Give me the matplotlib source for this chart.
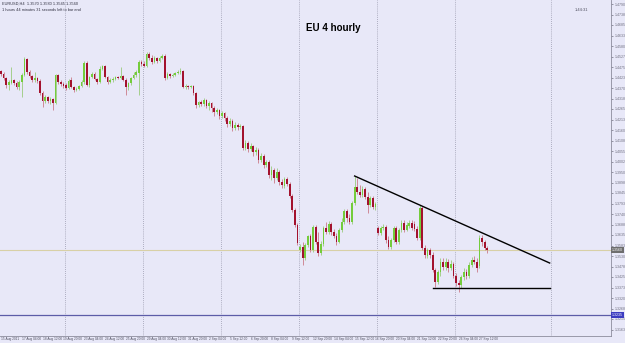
import numpy as np
import matplotlib
matplotlib.use("Agg")
import matplotlib.pyplot as plt
from matplotlib.transforms import blended_transform_factory

plt.rcParams['font.family'] = ['Liberation Sans', 'DejaVu Sans']

# EURUSD H4 candles, 15 Aug 2011 20:00 .. 28 Sep 2011 00:00
opens = [
    1.4455, 1.4440, 1.4420, 1.4385, 1.4395, 1.4410, 1.4395, 1.4375, 1.4400, 1.4435,
    1.4515, 1.4450, 1.4430, 1.4410, 1.4420, 1.4405, 1.4345, 1.4305, 1.4325, 1.4305,
    1.4315, 1.4295, 1.4435, 1.4400, 1.4390, 1.4385, 1.4370, 1.4410, 1.4375, 1.4360,
    1.4365, 1.4380, 1.4400, 1.4495, 1.4385, 1.4425, 1.4440, 1.4415, 1.4400, 1.4465,
    1.4480, 1.4425, 1.4400, 1.4410, 1.4415, 1.4425, 1.4420, 1.4430, 1.4410, 1.4375,
    1.4395, 1.4420, 1.4435, 1.4445, 1.4500, 1.4490, 1.4480, 1.4540, 1.4520, 1.4500,
    1.4520, 1.4505, 1.4520, 1.4530, 1.4420, 1.4440, 1.4430, 1.4435, 1.4445, 1.4450,
    1.4455, 1.4375, 1.4380, 1.4375, 1.4380, 1.4345, 1.4285, 1.4300, 1.4290, 1.4310,
    1.4280, 1.4295, 1.4270, 1.4250, 1.4260, 1.4230, 1.4245, 1.4220, 1.4190, 1.4205,
    1.4170, 1.4185, 1.4175, 1.4180, 1.4070, 1.4095, 1.4065, 1.4080, 1.4050, 1.4060,
    1.4010, 1.4030, 1.3985, 1.4000, 1.3935, 1.3960, 1.3920, 1.3950, 1.3900, 1.3880,
    1.3915, 1.3890, 1.3830, 1.3760, 1.3685, 1.3560, 1.3575, 1.3520, 1.3585, 1.3630,
    1.3560, 1.3675, 1.3600, 1.3545, 1.3590, 1.3670, 1.3650, 1.3690, 1.3650, 1.3630,
    1.3600, 1.3660, 1.3700, 1.3755, 1.3720, 1.3700, 1.3795, 1.3875, 1.3850, 1.3835,
    1.3865, 1.3825, 1.3785, 1.3820, 1.3775, 1.3670, 1.3645, 1.3670, 1.3675, 1.3610,
    1.3575, 1.3610, 1.3670, 1.3600, 1.3660, 1.3695, 1.3660, 1.3680, 1.3695, 1.3690,
    1.3665, 1.3620, 1.3770, 1.3570, 1.3530, 1.3560, 1.3535, 1.3460, 1.3400, 1.3450,
    1.3500, 1.3475, 1.3500, 1.3470, 1.3490, 1.3430, 1.3395, 1.3385, 1.3425, 1.3450,
    1.3430, 1.3485, 1.3510, 1.3500, 1.3480, 1.3620, 1.3600, 1.3570,
]
highs = [
    1.4460, 1.4450, 1.4425, 1.4410, 1.4475, 1.4415, 1.4405, 1.4410, 1.4445, 1.4525,
    1.4520, 1.4460, 1.4435, 1.4450, 1.4425, 1.4415, 1.4355, 1.4335, 1.4330, 1.4325,
    1.4320, 1.4440, 1.4440, 1.4410, 1.4400, 1.4395, 1.4415, 1.4425, 1.4380, 1.4375,
    1.4385, 1.4410, 1.4505, 1.4505, 1.4430, 1.4450, 1.4450, 1.4420, 1.4480, 1.4485,
    1.4485, 1.4430, 1.4420, 1.4425, 1.4430, 1.4430, 1.4475, 1.4435, 1.4420, 1.4400,
    1.4425, 1.4450, 1.4460, 1.4510, 1.4510, 1.4505, 1.4550, 1.4550, 1.4535, 1.4530,
    1.4525, 1.4530, 1.4540, 1.4540, 1.4450, 1.4445, 1.4445, 1.4450, 1.4460, 1.4470,
    1.4460, 1.4390, 1.4385, 1.4385, 1.4385, 1.4350, 1.4305, 1.4310, 1.4320, 1.4315,
    1.4305, 1.4300, 1.4280, 1.4270, 1.4265, 1.4255, 1.4250, 1.4230, 1.4220, 1.4215,
    1.4200, 1.4195, 1.4190, 1.4185, 1.4110, 1.4105, 1.4095, 1.4085, 1.4075, 1.4070,
    1.4045, 1.4040, 1.4010, 1.4010, 1.3980, 1.3970, 1.3970, 1.3960, 1.3915, 1.3925,
    1.3925, 1.3900, 1.3840, 1.3770, 1.3695, 1.3590, 1.3600, 1.3595, 1.3635, 1.3640,
    1.3685, 1.3685, 1.3650, 1.3605, 1.3680, 1.3700, 1.3705, 1.3700, 1.3665, 1.3645,
    1.3670, 1.3720, 1.3765, 1.3765, 1.3740, 1.3805, 1.3930, 1.3920, 1.3885, 1.3880,
    1.3875, 1.3850, 1.3830, 1.3830, 1.3800, 1.3680, 1.3680, 1.3690, 1.3685, 1.3630,
    1.3620, 1.3680, 1.3680, 1.3670, 1.3710, 1.3710, 1.3700, 1.3710, 1.3710, 1.3705,
    1.3680, 1.3785, 1.3780, 1.3585, 1.3570, 1.3570, 1.3550, 1.3470, 1.3460, 1.3520,
    1.3520, 1.3520, 1.3515, 1.3510, 1.3500, 1.3445, 1.3410, 1.3435, 1.3470, 1.3465,
    1.3500, 1.3525, 1.3530, 1.3520, 1.3635, 1.3635, 1.3610, 1.3580,
]
lows = [
    1.4430, 1.4410, 1.4370, 1.4360, 1.4390, 1.4385, 1.4365, 1.4360, 1.4325, 1.4430,
    1.4440, 1.4420, 1.4400, 1.4400, 1.4395, 1.4335, 1.4275, 1.4295, 1.4295, 1.4290,
    1.4260, 1.4290, 1.4390, 1.4380, 1.4370, 1.4360, 1.4365, 1.4370, 1.4350, 1.4355,
    1.4360, 1.4375, 1.4390, 1.4380, 1.4375, 1.4420, 1.4410, 1.4390, 1.4395, 1.4460,
    1.4420, 1.4390, 1.4395, 1.4400, 1.4410, 1.4415, 1.4415, 1.4405, 1.4335, 1.4360,
    1.4385, 1.4415, 1.4425, 1.4335, 1.4480, 1.4475, 1.4475, 1.4510, 1.4490, 1.4495,
    1.4495, 1.4500, 1.4515, 1.4410, 1.4415, 1.4420, 1.4425, 1.4430, 1.4440, 1.4440,
    1.4370, 1.4365, 1.4365, 1.4370, 1.4335, 1.4270, 1.4275, 1.4280, 1.4280, 1.4270,
    1.4260, 1.4250, 1.4230, 1.4240, 1.4215, 1.4220, 1.4205, 1.4175, 1.4180, 1.4155,
    1.4160, 1.4160, 1.4165, 1.4060, 1.4060, 1.4050, 1.4055, 1.4030, 1.4035, 1.3995,
    1.4000, 1.3970, 1.3975, 1.3920, 1.3910, 1.3895, 1.3910, 1.3885, 1.3870, 1.3870,
    1.3880, 1.3820, 1.3750, 1.3675, 1.3585, 1.3550, 1.3485, 1.3510, 1.3575, 1.3550,
    1.3550, 1.3590, 1.3530, 1.3535, 1.3580, 1.3640, 1.3640, 1.3635, 1.3620, 1.3585,
    1.3595, 1.3650, 1.3690, 1.3700, 1.3690, 1.3690, 1.3785, 1.3840, 1.3825, 1.3825,
    1.3815, 1.3745, 1.3775, 1.3765, 1.3760, 1.3635, 1.3635, 1.3660, 1.3595, 1.3565,
    1.3565, 1.3600, 1.3590, 1.3590, 1.3650, 1.3650, 1.3655, 1.3670, 1.3660, 1.3655,
    1.3610, 1.3610, 1.3560, 1.3520, 1.3520, 1.3520, 1.3450, 1.3375, 1.3390, 1.3430,
    1.3460, 1.3460, 1.3450, 1.3460, 1.3420, 1.3380, 1.3350, 1.3370, 1.3410, 1.3415,
    1.3420, 1.3475, 1.3490, 1.3450, 1.3470, 1.3580, 1.3560, 1.3545,
]
closes = [
    1.4440, 1.4420, 1.4385, 1.4400, 1.4410, 1.4395, 1.4375, 1.4400, 1.4435, 1.4515,
    1.4450, 1.4430, 1.4410, 1.4420, 1.4405, 1.4345, 1.4305, 1.4325, 1.4305, 1.4315,
    1.4295, 1.4435, 1.4400, 1.4390, 1.4380, 1.4370, 1.4405, 1.4375, 1.4360, 1.4365,
    1.4380, 1.4400, 1.4495, 1.4385, 1.4425, 1.4440, 1.4415, 1.4400, 1.4465, 1.4480,
    1.4425, 1.4400, 1.4410, 1.4415, 1.4425, 1.4420, 1.4430, 1.4410, 1.4375, 1.4395,
    1.4420, 1.4435, 1.4450, 1.4500, 1.4490, 1.4480, 1.4540, 1.4520, 1.4500, 1.4520,
    1.4505, 1.4520, 1.4530, 1.4420, 1.4440, 1.4430, 1.4435, 1.4445, 1.4450, 1.4455,
    1.4375, 1.4380, 1.4375, 1.4380, 1.4345, 1.4285, 1.4300, 1.4290, 1.4310, 1.4280,
    1.4295, 1.4270, 1.4250, 1.4260, 1.4230, 1.4245, 1.4220, 1.4190, 1.4205, 1.4170,
    1.4185, 1.4175, 1.4180, 1.4070, 1.4095, 1.4065, 1.4080, 1.4050, 1.4060, 1.4010,
    1.4030, 1.3985, 1.4000, 1.3935, 1.3960, 1.3920, 1.3950, 1.3900, 1.3885, 1.3915,
    1.3890, 1.3830, 1.3760, 1.3685, 1.3595, 1.3575, 1.3520, 1.3585, 1.3630, 1.3560,
    1.3675, 1.3600, 1.3545, 1.3590, 1.3670, 1.3650, 1.3690, 1.3650, 1.3630, 1.3600,
    1.3660, 1.3700, 1.3755, 1.3720, 1.3700, 1.3795, 1.3875, 1.3850, 1.3835, 1.3865,
    1.3825, 1.3785, 1.3820, 1.3775, 1.3790, 1.3645, 1.3670, 1.3675, 1.3610, 1.3575,
    1.3610, 1.3670, 1.3600, 1.3660, 1.3695, 1.3660, 1.3685, 1.3695, 1.3670, 1.3665,
    1.3620, 1.3770, 1.3570, 1.3535, 1.3560, 1.3535, 1.3460, 1.3400, 1.3450, 1.3500,
    1.3475, 1.3500, 1.3470, 1.3490, 1.3430, 1.3395, 1.3385, 1.3425, 1.3450, 1.3430,
    1.3485, 1.3510, 1.3500, 1.3470, 1.3620, 1.3600, 1.3570, 1.3560,
]

# x labels every 8 bars
label_bars = list(range(0, 192, 8))
label_text = [
    "15 Aug 2011", "17 Aug 04:00", "18 Aug 12:00", "19 Aug 20:00", "23 Aug 04:00",
    "24 Aug 12:00", "25 Aug 20:00", "29 Aug 04:00", "30 Aug 12:00", "31 Aug 20:00",
    "2 Sep 04:00", "5 Sep 12:00", "6 Sep 20:00", "8 Sep 04:00", "9 Sep 12:00",
    "12 Sep 20:00", "14 Sep 04:00", "15 Sep 12:00", "16 Sep 20:00", "20 Sep 04:00",
    "21 Sep 12:00", "22 Sep 20:00", "26 Sep 04:00", "27 Sep 12:00",
]
week_breaks = [24.5, 54.5, 84.5, 114.5, 144.5, 174.5, 211.5]

# hand drawn lines
trend_x = [136, 211]
trend_y = [1.3930, 1.3495]
support_x = [166, 211]
support_y = [1.3370, 1.3370]
bid_price = 1.3560
blue_level = 1.3235

bg = "#E8E8F8"
bull_body, bear_body = "#74CC3C", "#A3122E"
bull_wick, bear_wick = "#A4CF8C", "#CF8A98"

fig = plt.figure(figsize=(6.25, 3.43), dpi=100, facecolor=bg)
ax = fig.add_axes([0, 7 / 343, 611 / 625, 336 / 343], facecolor=bg)

o = np.array(opens); h = np.array(highs); l = np.array(lows); c = np.array(closes)
x = np.arange(len(c))
up = c >= o

# wicks
ax.vlines(x[up], l[up], h[up], color=bull_wick, lw=0.7, zorder=3)
ax.vlines(x[~up], l[~up], h[~up], color=bear_wick, lw=0.7, zorder=3)
# bodies
body = np.maximum(np.abs(c - o), 0.00025)
bottom = np.minimum(o, c)
ax.bar(x[up], body[up], bottom=bottom[up], width=0.68, color=bull_body, lw=0, zorder=4)
ax.bar(x[~up], body[~up], bottom=bottom[~up], width=0.68, color=bear_body, lw=0, zorder=4)

for wb in week_breaks:
    ax.axvline(wb, color="#9A9AAE", lw=0.6, ls=(0, (1, 1.5)), zorder=1)

ax.axhline(bid_price, color="#D8D0A6", lw=0.8, zorder=2)
ax.axhline(blue_level, color="#5C5CA8", lw=0.9, zorder=2)
ax.plot(trend_x, trend_y, color="black", lw=1.0, zorder=5)
ax.plot(support_x, support_y, color="black", lw=1.0, zorder=5)

ax.set_xlim(-0.385, 234.6)
ax.set_ylim(1.3130, 1.4810)

# price scale on the right
yt = 1.4790 - 0.00525 * np.arange(32)
ax.yaxis.tick_right()
ax.set_yticks(yt)
ax.set_yticklabels([f"{v:.4f}" for v in yt], fontsize=2.6, color="#505060")
ax.tick_params(axis="y", length=1.5, width=0.5, pad=1.0, colors="#707080")
ax.set_xticks([])
for s in ["left", "top"]:
    ax.spines[s].set_visible(False)
for s in ["right", "bottom"]:
    ax.spines[s].set_color("#8C8C9C")
    ax.spines[s].set_linewidth(0.6)

tb = blended_transform_factory(ax.transData, ax.transAxes)
for b, t in zip(label_bars, label_text):
    ax.text(b, -0.004, t, transform=tb, fontsize=2.3, color="#505060",
            ha="left", va="top", clip_on=False)

# price boxes on the axis
ty = blended_transform_factory(ax.transAxes, ax.transData)
ax.text(1.002, bid_price, f"{bid_price:.4f}", transform=ty, fontsize=2.6,
        color="white", va="center", ha="left",
        bbox=dict(boxstyle="square,pad=0.2", fc="#6E6E6E", ec="none"), clip_on=False)
ax.text(1.002, blue_level, f"{blue_level:.4f}", transform=ty, fontsize=2.6,
        color="white", va="center", ha="left",
        bbox=dict(boxstyle="square,pad=0.2", fc="#3C3CC0", ec="none"), clip_on=False)

fig.text(2 / 625, 1 - 2 / 343, "EURUSD,H4  1.3570 1.3580 1.3545 1.3560",
         fontsize=2.8, color="#303040", va="top")
fig.text(2 / 625, 1 - 8 / 343, "1 hours 44 minutes 31 seconds left to bar end",
         fontsize=2.8, color="#303040", va="top")
fig.text(575 / 625, 1 - 10 / 343, "1:44:31", fontsize=3.0, color="#505060", va="center")
fig.text(333 / 625, 1 - 28 / 343, "EU 4 hourly", fontsize=7, fontweight="bold",
         color="black", ha="center", va="center")

fig.savefig("out.png", dpi=100, facecolor=bg)
